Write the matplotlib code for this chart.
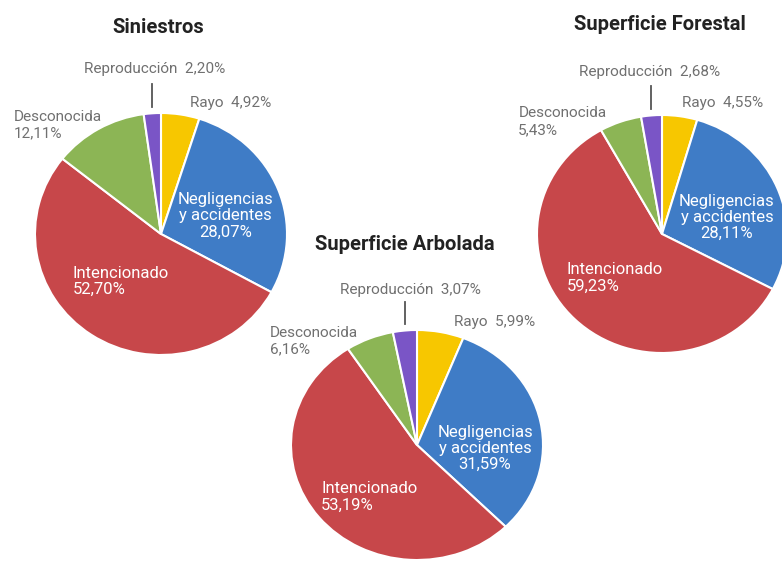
import matplotlib.pyplot as plt
import numpy as np

plt.rcParams['font.family'] = ['Roboto', 'DejaVu Sans']

# causas en el orden en que se dibujan (sentido horario desde las 12)
causas = ['Rayo', 'Negligencias\ny accidentes', 'Intencionado', 'Desconocida', 'Reproducción']
colores = ['#F7C700', '#3F7CC6', '#C7474A', '#8CB555', '#7A55C6']

siniestros = [4.92, 28.07, 52.70, 12.11, 2.20]
sup_forestal = [4.55, 28.11, 59.23, 5.43, 2.68]
sup_arbolada = [5.99, 31.59, 53.19, 6.16, 3.07]

W, H = 782, 564
GRIS = '#707070'


def pct(v):
    return f'{v:.2f}'.replace('.', ',') + '%'


fig = plt.figure(figsize=(W / 100, H / 100), dpi=100)


def tarta(box, titulo, valores, pos):
    x0, y0, x1, y1 = box
    ax = fig.add_axes([x0 / W, 1 - y1 / H, (x1 - x0) / W, (y1 - y0) / H])
    wedges, _ = ax.pie(valores, colors=colores, startangle=90, counterclock=False,
                       wedgeprops=dict(edgecolor='white', linewidth=1.5, clip_on=False))
    ax.set_aspect('auto')
    ax.set_xlim(-1, 1)
    ax.set_ylim(-1, 1)
    ax.axis('off')

    ax.text(*pos['titulo'], titulo, ha='center', va='center', fontsize=14.5,
            fontweight='bold', color='#222222')

    ax.text(*pos['rayo'], f'{causas[0]}  {pct(valores[0])}', ha='left', va='center',
            fontsize=11, color=GRIS)
    ax.text(*pos['neg'], f'{causas[1]}\n{pct(valores[1])}', ha='center', va='center',
            multialignment='center', fontsize=12, linespacing=1.1, color='white')
    ax.text(*pos['int'], f'{causas[2]}\n{pct(valores[2])}', ha='left', va='center',
            fontsize=12, linespacing=1.1, color='white')
    ax.text(*pos['desc'], f'{causas[3]}\n{pct(valores[3])}', ha='left', va='center',
            fontsize=11, linespacing=1.25, color=GRIS)
    ax.text(*pos['repro'], f'{causas[4]}  {pct(valores[4])}', ha='center', va='center',
            fontsize=11, color=GRIS)

    # línea guía hacia la porción de reproducción
    w = wedges[4]
    xm = np.cos(np.radians((w.theta1 + w.theta2) / 2))
    ax.plot([xm, xm], [1.05, 1.24], color='#555555', lw=1.3, clip_on=False)
    return ax


tarta((35, 113, 287, 355), 'Siniestros', siniestros,
      dict(titulo=(-0.02, 1.71), rayo=(0.23, 1.08), desc=(-1.17, 0.9),
           repro=(-0.05, 1.36), neg=(0.51, 0.15), int=(-0.7, -0.39)))

tarta((537, 115, 787, 353), 'Superficie Forestal', sup_forestal,
      dict(titulo=(-0.02, 1.76), rayo=(0.16, 1.10), desc=(-1.15, 0.945),
           repro=(-0.1, 1.36), neg=(0.52, 0.14), int=(-0.76, -0.37)))

tarta((291, 330, 543, 560), 'Superficie Arbolada', sup_arbolada,
      dict(titulo=(-0.1, 1.74), rayo=(0.29, 1.07), desc=(-1.17, 0.905),
           repro=(-0.05, 1.35), neg=(0.54, -0.03), int=(-0.76, -0.45)))

fig.savefig('out.png', dpi=100)
